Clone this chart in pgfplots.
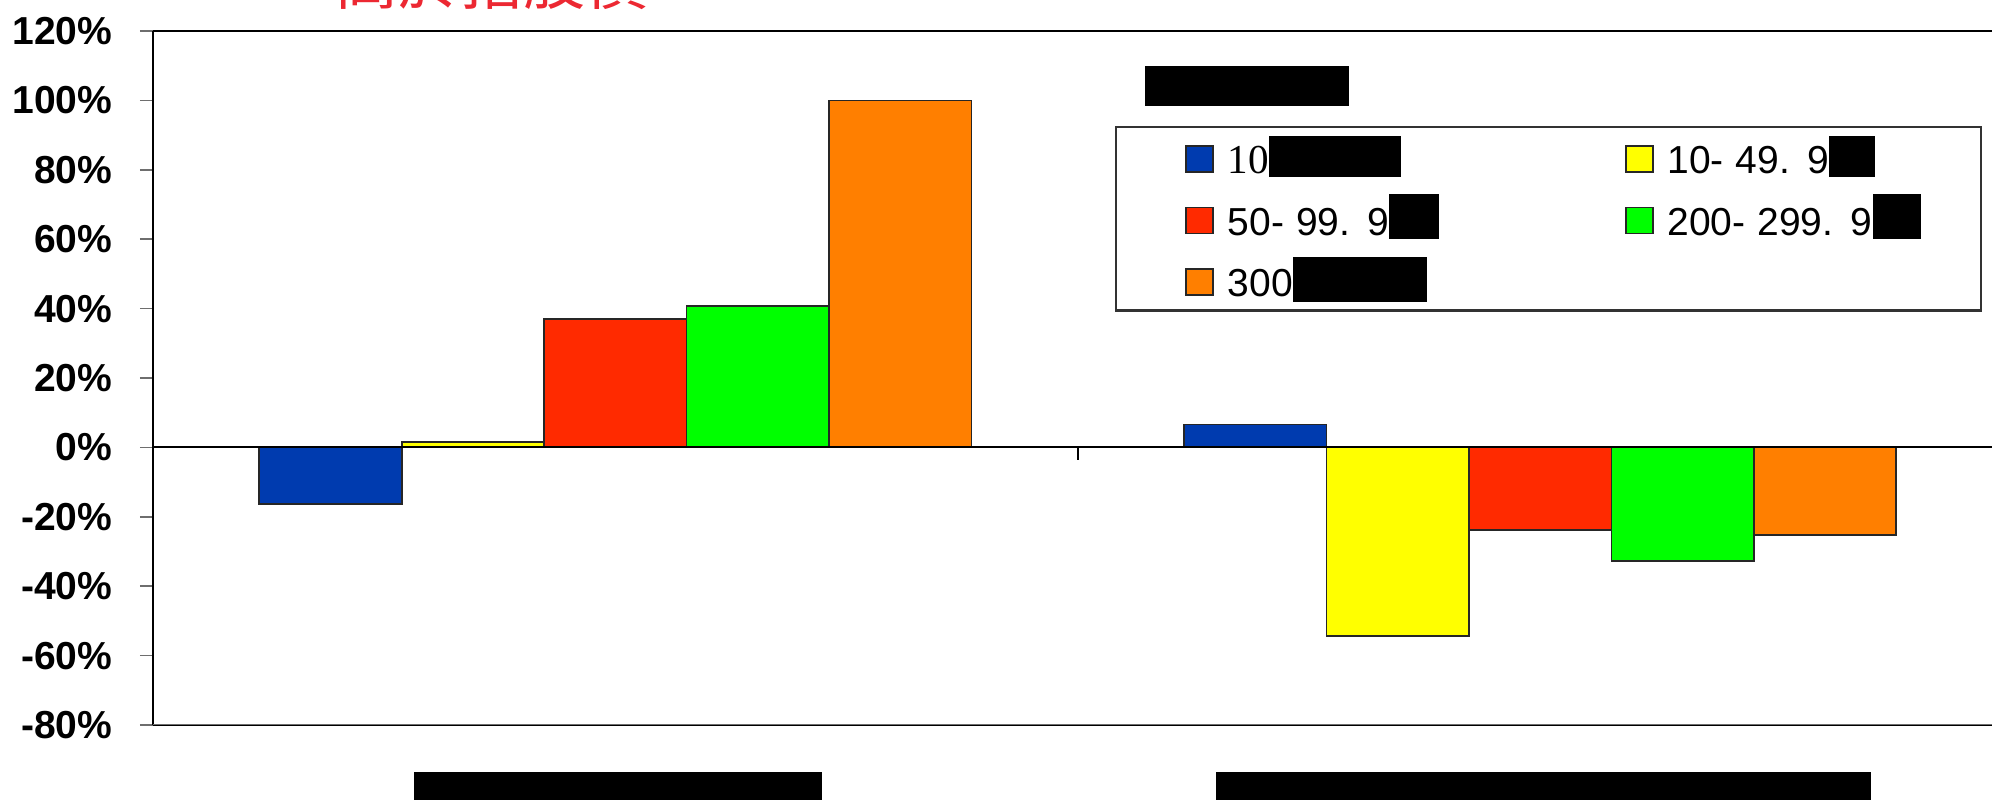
\documentclass[border=0pt]{standalone}
\usepackage{fontspec}
\setmainfont{Liberation Sans}
\newfontfamily\serifnum{Liberation Serif}
\newfontfamily\cjk{Noto Sans CJK TC}
\usepackage{pgfplots}
\pgfplotsset{compat=1.18}
\usepackage{pgfplotstable}

\definecolor{cBlue}{RGB}{0,59,175}
\definecolor{cYellow}{RGB}{255,255,0}
\definecolor{cRed}{RGB}{255,42,0}
\definecolor{cGreen}{RGB}{0,255,0}
\definecolor{cOrange}{RGB}{255,127,0}
\definecolor{titleRed}{RGB}{236,40,50}
\definecolor{frameGray}{RGB}{110,110,110}

% wide hyphen and period, as in the legend's number ranges
\newcommand\hy{\makebox[0.64em][l]{-}}
\newcommand\pd{\makebox[0.72em][l]{.}}
% fixed-width legend cells for the two columns
\newcommand\colA[1]{\makebox[3.83cm][l]{#1}}
\newcommand\colB[1]{\makebox[2.44cm][l]{#1}}

% change in share price by capital size, two groups
\pgfplotstableread{
grp s1 s2 s3 s4 s5
0 -16.4 1.6 37.0 40.7 100.0
1 6.6 -54.4 -23.9 -32.8 -25.2
}\growth

\begin{document}
\begin{tikzpicture}
\begin{axis}[
  name=ax,
  scale only axis, width=18.39cm, height=6.94cm,
  xmin=-0.5, xmax=1.4886, ymin=-80, ymax=120,
  axis y line*=left,
  axis line style={black, line width=0.45pt},
  ybar=0pt, bar width=0.154,
  xtick={0,1},
  xticklabels={\rule{4.08cm}{0.6cm},\rule{6.55cm}{0.6cm}},
  xtick style={draw=none},
  xticklabel style={anchor=north, inner sep=0pt, yshift=-0.33cm, xshift=0.03cm},
  ytick={-80,-60,...,120},
  yticklabels={-80\%,-60\%,-40\%,-20\%,0\%,20\%,40\%,60\%,80\%,100\%,120\%},
  tick align=outside,
  major tick length=0.13cm,
  ytick style={frameGray, line width=0.5pt},
  yticklabel style={anchor=east, inner sep=0pt, xshift=-0.27cm,
    font=\fontsize{11.1}{13}\selectfont\bfseries},
  legend columns=2,
  legend style={
    at={(0.5231,0.8631)}, anchor=north west,
    draw=black!80, line width=0.6pt,
    inner xsep=0.69cm, inner ysep=0.09cm,
    column sep=0.14cm, row sep=0.2cm,
    font=\fontsize{11.1}{13}\selectfont,
    cells={anchor=base west},
    nodes={inner sep=0pt, text height=0.373cm, text depth=0.045cm, anchor=base west},
  },
  every axis plot/.append style={draw=black!85, line width=0.5pt},
  every axis plot post/.append style={
    legend image code/.code={\draw[##1, line width=0.5pt] (0cm,0.016cm) rectangle (0.27cm,0.276cm);}},
]
\addplot[fill=cBlue]   table[x=grp, y=s1] {\growth};
\addplot[fill=cYellow] table[x=grp, y=s2] {\growth};
\addplot[fill=cRed]    table[x=grp, y=s3] {\growth};
\addplot[fill=cGreen]  table[x=grp, y=s4] {\growth};
\addplot[fill=cOrange] table[x=grp, y=s5] {\growth};
\legend{\colA{{\fontsize{11.7}{13}\serifnum 10}\rule[-0.034cm]{1.325cm}{0.407cm}},
        \colB{10\hy49\pd9\rule[-0.034cm]{0.458cm}{0.407cm}},
        \colA{50\hy99\pd9\rule[-0.04cm]{0.497cm}{0.45cm}},
        \colB{200\hy299\pd9\rule[-0.04cm]{0.482cm}{0.45cm}},
        \colA{300\rule[-0.047cm]{1.34cm}{0.447cm}}}

% zero line, group divider tick and grey base line
\draw[black, line width=0.55pt] (axis cs:-0.5,0) -- (axis cs:1.4886,0);
\draw[black, line width=0.55pt] (axis cs:0.5,0) -- ([yshift=-0.13cm]axis cs:0.5,0);
\draw[frameGray, line width=0.6pt] (rel axis cs:0,0) -- (rel axis cs:1,0);
% heading above the legend
\node[fill=black, inner sep=0pt, minimum width=2.04cm, minimum height=0.40cm,
      anchor=north west] at (axis description cs:0.5388,0.950) {};
\end{axis}
\node[anchor=base west, text=titleRed, inner sep=0pt,
      font=\cjk\fontsize{17.8}{20}\selectfont]
  at ([xshift=1.82cm, yshift=0.26cm]ax.north west) {高於指股價};
\pgfresetboundingbox
\path[use as bounding box] ([xshift=-1.53cm, yshift=-0.75cm]ax.south west)
  rectangle ([yshift=0.31cm]ax.north east);
\end{tikzpicture}
\end{document}
